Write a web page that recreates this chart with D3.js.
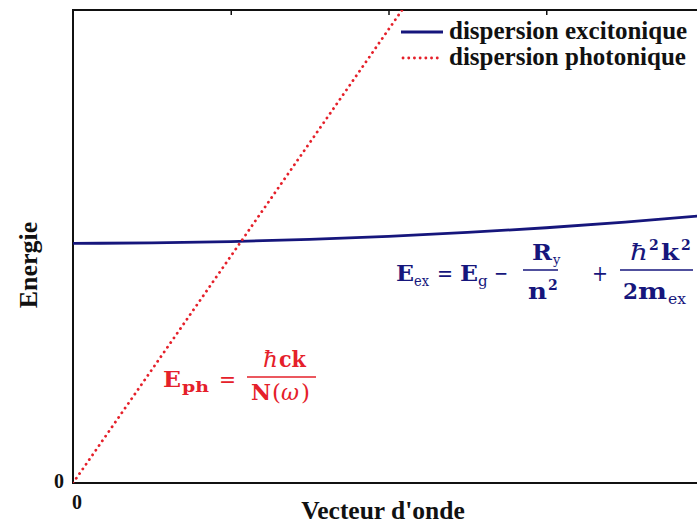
<!DOCTYPE html>
<html><head><meta charset="utf-8">
<script src="https://cdn.jsdelivr.net/npm/d3@7"></script>
<style>body{margin:0;background:#fff}svg{display:block}</style>
</head><body>
<script>
// Data
const excitonK = [0, 0.5, 1, 1.5, 2, 2.5, 3, 3.5, 4];
const excitonE = [1.52, 1.523, 1.531, 1.545, 1.564, 1.589, 1.619, 1.655, 1.696];
const photonK = [0, 2.086];
const photonE = [0, 3];
const topTicks = [1, 2, 3];
const legendLabels = ["dispersion excitonique", "dispersion photonique"];
const xLabel = "Vecteur d'onde";
const yLabel = "Energie";

const W = 697, H = 526;
const navy = "#16167c", red = "#e5202a";
const svg = d3.select("body").append("svg").attr("width", W).attr("height", H);

const x = d3.scaleLinear().domain([0, 4]).range([73, 704]);
const y = d3.scaleLinear().domain([0, 3]).range([483, 10]);

svg.append("defs").append("clipPath").attr("id","clip")
  .append("rect").attr("x",73).attr("y",10).attr("width",631).attr("height",473);

// frame
svg.append("rect").attr("x",73).attr("y",10).attr("width",631).attr("height",473)
  .attr("fill","none").attr("stroke","#111").attr("stroke-width",2);

// top ticks
svg.append("g").attr("transform","translate(0,10)")
  .call(d3.axisTop(x).tickValues(topTicks).tickSize(-5).tickFormat(""))
  .call(g=>g.select(".domain").remove())
  .call(g=>g.selectAll("line").attr("stroke","#111").attr("stroke-width",1.5));

const g = svg.append("g").attr("clip-path","url(#clip)");
const line = d3.line().x(d=>x(d[0])).y(d=>y(d[1])).curve(d3.curveMonotoneX);
g.append("path").datum(excitonK.map((k,i)=>[k,excitonE[i]]))
  .attr("d", line).attr("fill","none").attr("stroke",navy).attr("stroke-width",2.8);
g.append("path").datum(photonK.map((k,i)=>[k,photonE[i]]))
  .attr("d", d3.line().x(d=>x(d[0])).y(d=>y(d[1]))).attr("fill","none")
  .attr("stroke",red).attr("stroke-width",2.8).attr("stroke-dasharray","0.1 5.6").attr("stroke-linecap","round");

// legend
const lf = "'Liberation Serif', 'Times New Roman', serif";
svg.append("line").attr("x1",401).attr("x2",443).attr("y1",32).attr("y2",32)
  .attr("stroke",navy).attr("stroke-width",2.8);
svg.append("line").attr("x1",403).attr("x2",440).attr("y1",58).attr("y2",58)
  .attr("stroke",red).attr("stroke-width",2.8).attr("stroke-dasharray","0.1 5.6").attr("stroke-linecap","round");
svg.append("text").attr("x",449).attr("y",39).text(legendLabels[0])
  .attr("font-family",lf).attr("font-weight","bold").attr("font-size",25).attr("fill","#111");
svg.append("text").attr("x",449).attr("y",65).text(legendLabels[1])
  .attr("font-family",lf).attr("font-weight","bold").attr("font-size",25).attr("fill","#111");

// zero labels
svg.append("text").attr("x",59).attr("y",488).attr("text-anchor","middle").text("0")
  .attr("font-family",lf).attr("font-weight","bold").attr("font-size",20).attr("fill","#111");
svg.append("text").attr("x",77).attr("y",509).attr("text-anchor","middle").text("0")
  .attr("font-family",lf).attr("font-weight","bold").attr("font-size",20).attr("fill","#111");

// axis labels
svg.append("text").attr("x",383).attr("y",519).attr("text-anchor","middle").text(xLabel)
  .attr("font-family",lf).attr("font-weight","bold").attr("font-size",25.5).attr("fill","#111");
svg.append("text").attr("transform","translate(37,265) rotate(-90)").attr("text-anchor","middle").text(yLabel)
  .attr("font-family",lf).attr("font-weight","bold").attr("font-size",26).attr("fill","#111");

// formulas
const mf = "'DejaVu Serif', serif";
function t(txt, px, py, size, color, opts){
  opts = opts || {};
  const e = svg.append("text").attr("x",px).attr("y",py).text(txt)
    .attr("font-family",mf).attr("font-weight",opts.w||"bold").attr("font-size",size).attr("fill",color)
    .attr("text-anchor",opts.a||"start");
  if(opts.i) e.attr("font-style","italic");
  if(opts.len) e.attr("textLength",opts.len).attr("lengthAdjust","spacingAndGlyphs");
  return e;
}
const big = 23, sub = 15;
// exciton formula
t("E",396,281,big,navy,{len:18});
t("ex",414,286,sub,navy,{w:"normal",len:15});
t("=",437,281,big,navy,{w:"normal",len:16});
t("E",460,281,big,navy,{len:18});
t("g",478,286,sub,navy,{w:"normal"});
t("−",494,281,big,navy,{w:"normal",len:14});
svg.append("line").attr("x1",523).attr("x2",558).attr("y1",270).attr("y2",270).attr("stroke",navy).attr("stroke-width",1.6);
t("R",532,260,big,navy,{len:20});
t("y",553,264,sub-2,navy,{w:"normal"});
t("n",528,299,big,navy,{len:19});
t("2",548,290,sub-1,navy);
t("+",592,281,big,navy,{w:"normal",len:16});
svg.append("line").attr("x1",620).attr("x2",693).attr("y1",270).attr("y2",270).attr("stroke",navy).attr("stroke-width",1.6);
t("ħ",630,260,big,navy,{i:true,w:"normal",len:18});
t("2",649,250,sub-1,navy);
t("k",661,260,big,navy,{len:18});
t("2",681,250,sub-1,navy);
t("2",623,299,big,navy,{len:15});
t("m",638,299,big,navy,{len:29});
t("ex",668,304,sub,navy,{w:"normal",len:18});

// photon formula
t("E",163,387,big,red,{len:18});
t("ph",182,392,sub,red,{len:27});
t("=",219,387,big,red,{w:"normal",len:17});
svg.append("line").attr("x1",247).attr("x2",316).attr("y1",377).attr("y2",377).attr("stroke",red).attr("stroke-width",1.6);
t("ħ",263,367,big,red,{i:true,w:"normal",len:15});
t("ck",279,367,big,red,{len:27});
t("N",251,400,big,red,{len:20});
t("(",272,400,big,red,{w:"normal"});
t("ω",281,400,big,red,{i:true,w:"normal",len:18});
t(")",301,400,big,red,{w:"normal"});
</script>
</body></html>
